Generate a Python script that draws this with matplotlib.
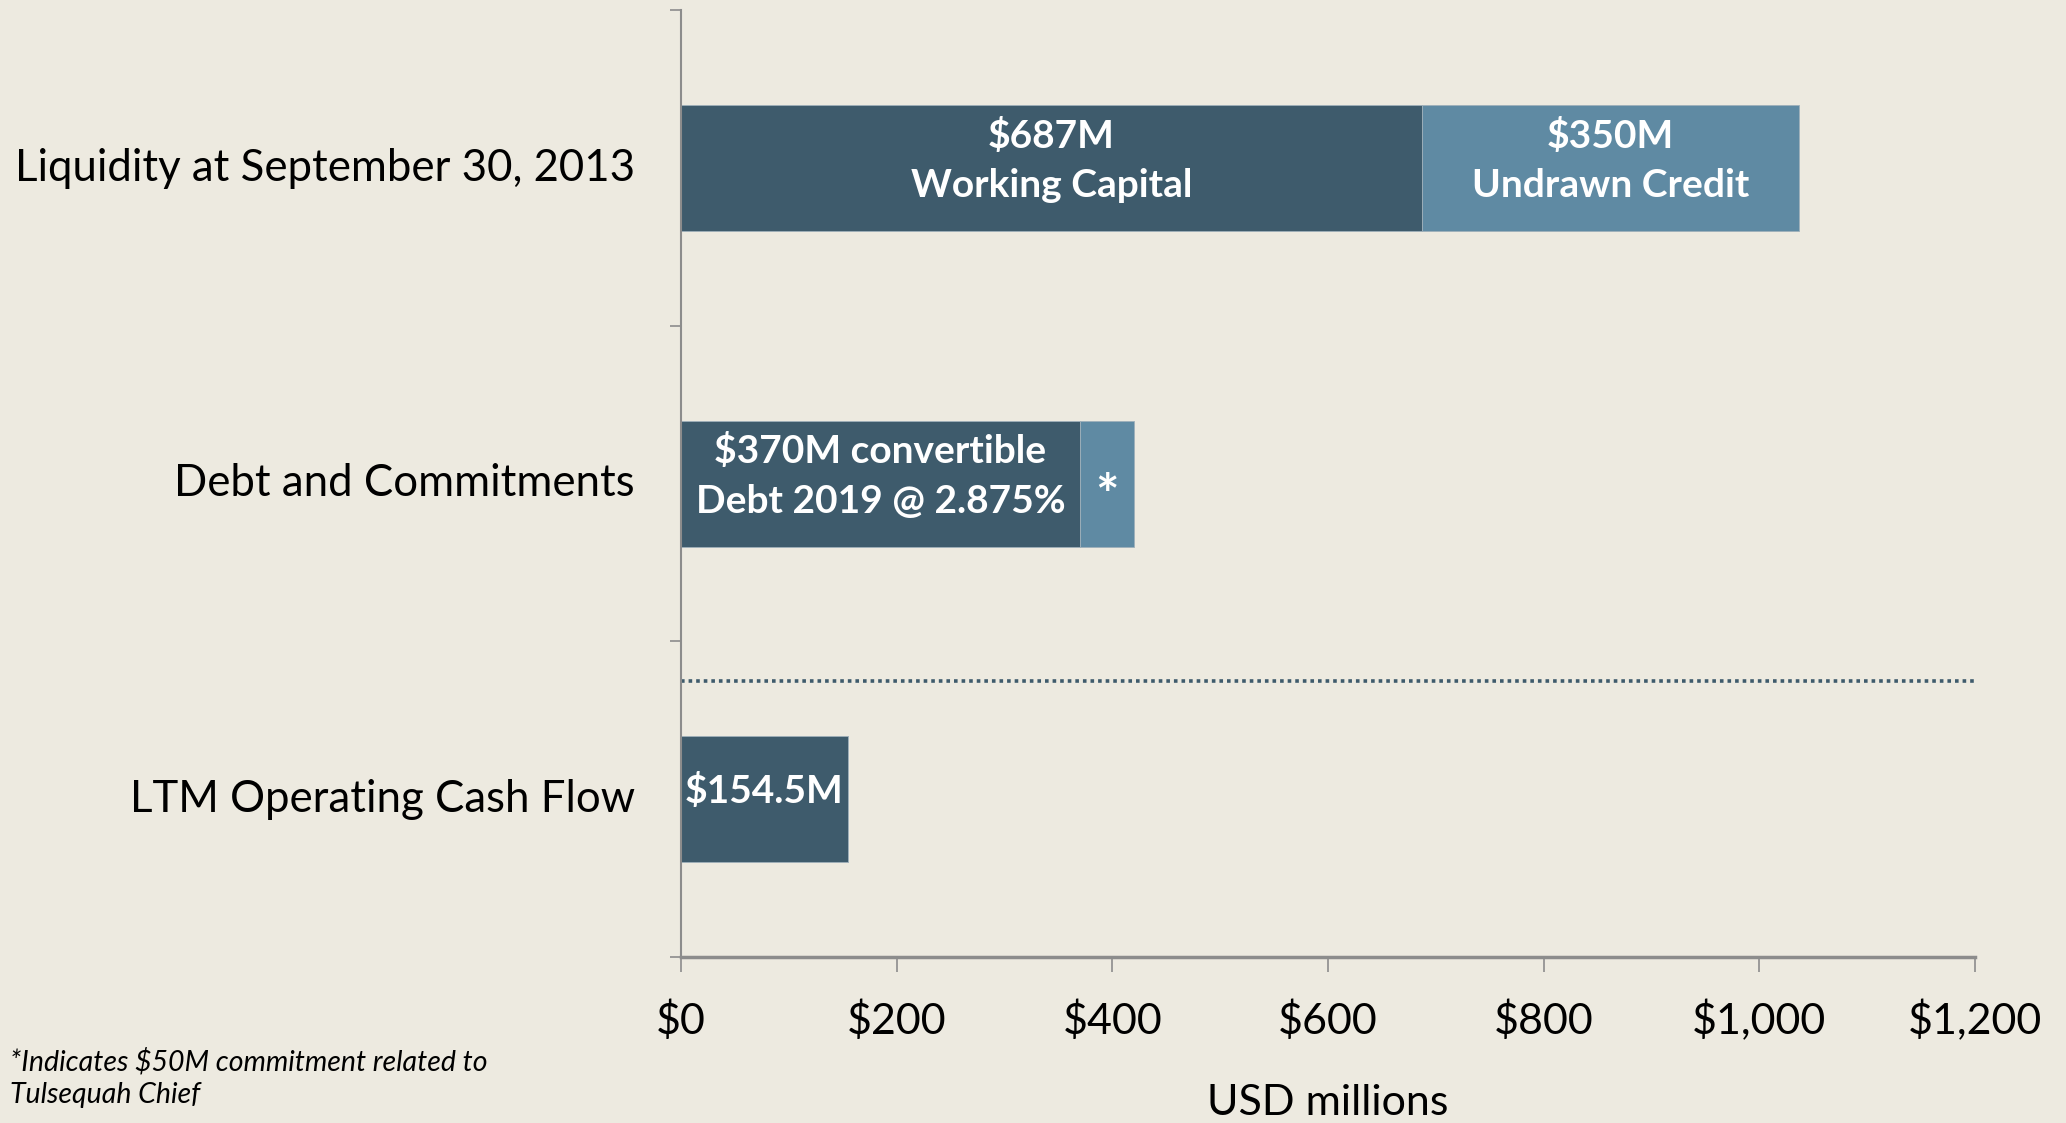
import matplotlib
matplotlib.use("Agg")
import matplotlib.pyplot as plt

categories = ["Liquidity at September 30, 2013", "Debt and Commitments", "LTM Operating Cash Flow"]
primary_vals = [687, 370, 154.5]
secondary_vals = [350, 50, 0]
primary_labels = ["$687M\nWorking Capital", "$370M convertible\nDebt 2019 @ 2.875%", "$154.5M"]
secondary_labels = ["$350M\nUndrawn Credit", "*", ""]
xticks = [0, 200, 400, 600, 800, 1000, 1200]
xtick_labels = ["$0", "$200", "$400", "$600", "$800", "$1,000", "$1,200"]
divider_y = 1.625

BG = "#EDEAE0"
DARK = "#3E5B6C"
LIGHT = "#5F8AA3"
GRAY = "#8C8C8C"

plt.rcParams['font.family'] = ['Lato', 'DejaVu Sans']

fig = plt.figure(figsize=(20.66, 11.23), dpi=100, facecolor=BG)
ax = fig.add_axes([0.3296, 0.1478, 0.9560 - 0.3296, 0.9907 - 0.1478])
ax.set_facecolor(BG)

ypos = list(range(len(categories)))
h = 0.4
ax.barh(ypos, primary_vals, height=h, color=DARK, edgecolor="#9FB0BA", linewidth=0.6)
ax.barh(ypos, secondary_vals, left=primary_vals, height=h, color=LIGHT, edgecolor="#9FB0BA", linewidth=0.6)

for i in ypos:
    if primary_labels[i]:
        ax.text(primary_vals[i] / 2, i - 0.025, primary_labels[i], ha="center", va="center",
                color="white", fontsize=28, fontweight="bold", linespacing=1.5)
    if secondary_labels[i] == "*":
        ax.text(primary_vals[i] + secondary_vals[i] / 2, i + 0.045, secondary_labels[i], ha="center",
                va="center", color="white", fontsize=40, fontweight="bold")
    elif secondary_labels[i]:
        ax.text(primary_vals[i] + secondary_vals[i] / 2, i - 0.025, secondary_labels[i], ha="center",
                va="center", color="white", fontsize=28, fontweight="bold", linespacing=1.5)

ax.plot([0, 1200], [divider_y, divider_y], color=DARK, linestyle=(0, (1, 1.1)), linewidth=2.6)

ax.set_xlim(0, 1200)
ax.set_ylim(2.5, -0.5)

ax.set_xticks(xticks)
ax.set_xticklabels(xtick_labels, fontsize=31)
ax.set_yticks(ypos)
ax.set_yticklabels(categories, fontsize=31.5, va="center")
ax.set_yticks([-0.5, 0.5, 1.5, 2.5], minor=True)
ax.tick_params(axis="y", which="major", length=0, pad=33)
ax.tick_params(axis="y", which="minor", length=8, color=GRAY, width=1.2)
ax.tick_params(axis="x", which="major", length=11, color=GRAY, width=1.2, pad=20)

for s in ["top", "right"]:
    ax.spines[s].set_visible(False)
ax.spines["left"].set_color(GRAY)
ax.spines["left"].set_linewidth(1.5)
ax.spines["bottom"].set_color(GRAY)
ax.spines["bottom"].set_linewidth(2.5)

ax.set_xlabel("USD millions", fontsize=31, labelpad=31)

fig.text(0.005, 1 - 1078 / 1123, "*Indicates $50M commitment related to\nTulsequah Chief",
         fontsize=20.5, style="italic", ha="left", va="center", linespacing=1.3)

fig.savefig("out.png", dpi=100, facecolor=BG)
